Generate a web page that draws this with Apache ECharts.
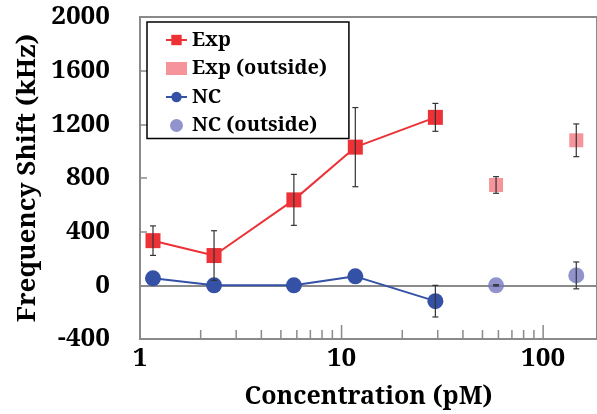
<!DOCTYPE html>
<html><head><meta charset="utf-8">
<script src="https://cdn.jsdelivr.net/npm/echarts@6/dist/echarts.min.js"></script>
<style>html,body{margin:0;padding:0;background:#fff}#c{width:597px;height:414px}</style>
</head><body><div id="c"></div>
<script>
// Data
var expX = [1.16, 2.33, 5.8, 11.7, 29.2];
var expY = [333, 222, 637, 1030, 1252];
var expErr = [110, 185, 190, 295, 104];
var expOutX = [58.4, 146];
var expOutY = [748, 1081];
var expOutErr = [62, 122];
var ncX = [1.16, 2.33, 5.8, 11.7, 29.2];
var ncY = [52, 0, 0, 67, -118];
var ncErr = [15, 15, 15, 15, 118];
var ncOutX = [58.4, 146];
var ncOutY = [0, 74];
var ncOutErr = [5, 100];
var xTickLabels = [1, 10, 100];
var minorTicks = [2,3,4,5,6,7,8,9,20,30,40,50,60,70,80,90];
var majorTicks = [10, 100];

var FONT = '"Noto Serif", "DejaVu Serif", serif';
var GRAY = '#8a8a8a';
var C_EXP = '#ED3237', C_EXPO = '#F27981', C_NC = '#3451A6', C_NCO = '#7678BF';

function pairs(xs, ys){ return xs.map(function(x,i){return [x, ys[i]];}); }
function errData(xs, ys, es){ return xs.map(function(x,i){return [x, ys[i]-es[i], ys[i]+es[i]];}); }

function errSeries(data){
  return {
    type:'custom', silent:true, z:10, data:data,
    renderItem:function(params, api){
      var lo = api.coord([api.value(0), api.value(1)]);
      var hi = api.coord([api.value(0), api.value(2)]);
      var w = 3;
      var st = {stroke:'#333', lineWidth:1.2};
      return {type:'group', children:[
        {type:'line', shape:{x1:lo[0],y1:lo[1],x2:hi[0],y2:hi[1]}, style:st},
        {type:'line', shape:{x1:lo[0]-w,y1:lo[1],x2:lo[0]+w,y2:lo[1]}, style:st},
        {type:'line', shape:{x1:hi[0]-w,y1:hi[1],x2:hi[0]+w,y2:hi[1]}, style:st}
      ]};
    }
  };
}
function tickSeries(vals, len){
  return {
    type:'custom', silent:true, z:1, clip:false, data:vals.map(function(v){return [v];}),
    renderItem:function(params, api){
      var p = api.coord([api.value(0), -400]);
      return {type:'line', shape:{x1:p[0],y1:p[1],x2:p[0],y2:p[1]-len}, style:{stroke:GRAY, lineWidth:1.5}};
    }
  };
}

var chart = echarts.init(document.getElementById('c'), null, {renderer:'canvas'});
chart.setOption({
  animation:false,
  grid:{left:140, top:17, right:-3, bottom:72, show:true, borderColor:GRAY, borderWidth:2, backgroundColor:'transparent'},
  legend:{
    orient:'vertical', left:147, top:22,
    data:['Exp','Exp (outside)','NC','NC (outside)'],
    itemWidth:21, itemHeight:13, itemGap:8.5,
    padding:[8, 22, 3, 18],
    borderColor:'#000', borderWidth:1.5, backgroundColor:'#fff',
    textStyle:{fontFamily:FONT, fontWeight:'bold', fontSize:20, color:'#000'}
  },
  xAxis:{
    type:'log', logBase:10, min:1, max:185,
    name:'Concentration (pM)', nameLocation:'middle', nameGap:45,
    nameTextStyle:{fontFamily:FONT, fontWeight:'bold', fontSize:25, color:'#000'},
    axisLine:{lineStyle:{color:GRAY, width:2}},
    axisTick:{show:false},
    splitLine:{show:false},
    axisLabel:{fontFamily:FONT, fontWeight:'bold', fontSize:26, color:'#000', margin:7,
      showMaxLabel:false,
      formatter:function(v){ return xTickLabels.indexOf(Math.round(v))>=0 ? String(Math.round(v)) : ''; }}
  },
  yAxis:{
    type:'value', min:-400, max:2000, interval:400,
    name:'Frequency Shift (kHz)', nameLocation:'middle', nameGap:99,
    nameTextStyle:{fontFamily:FONT, fontWeight:'bold', fontSize:26, color:'#000'},
    axisLine:{show:true, lineStyle:{color:GRAY, width:2}},
    axisTick:{show:true, inside:true, length:7, lineStyle:{color:GRAY, width:1.5}},
    splitLine:{show:false},
    axisLabel:{fontFamily:FONT, fontWeight:'bold', fontSize:26, color:'#000', margin:30,
      formatter:function(v){ return String(v); }}
  },
  series:[
    {name:'Exp', type:'line', data:pairs(expX, expY), symbol:'rect', symbolSize:15,
      itemStyle:{color:C_EXP}, lineStyle:{color:C_EXP, width:2}, z:5},
    {name:'Exp (outside)', type:'scatter', data:pairs(expOutX, expOutY), symbol:'rect', symbolSize:14,
      itemStyle:{color:C_EXPO}, z:5},
    {name:'NC', type:'line', data:pairs(ncX, ncY), symbol:'circle', symbolSize:16,
      itemStyle:{color:C_NC}, lineStyle:{color:C_NC, width:2}, z:5},
    {name:'NC (outside)', type:'scatter', data:pairs(ncOutX, ncOutY), symbol:'circle', symbolSize:16,
      itemStyle:{color:C_NCO}, z:5},
    errSeries(errData(expX, expY, expErr)),
    errSeries(errData(expOutX, expOutY, expOutErr)),
    errSeries(errData(ncX, ncY, ncErr).slice(4)),
    errSeries(errData(ncOutX, ncOutY, ncOutErr)),
    tickSeries(minorTicks, 9),
    tickSeries(majorTicks, 14)
  ]
});
</script></body></html>
